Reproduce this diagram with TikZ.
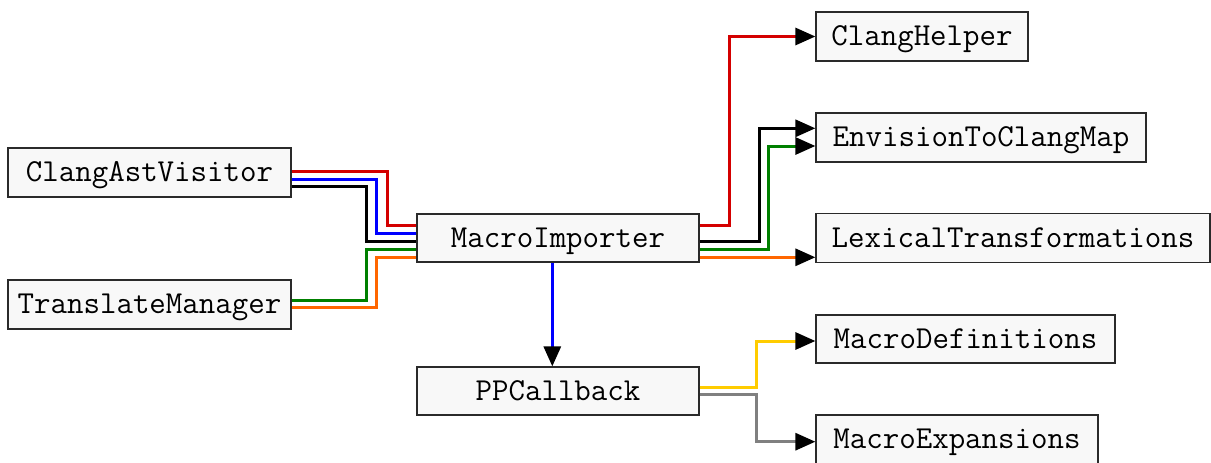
\documentclass[tikz,border=0pt]{standalone}
\usetikzlibrary{arrows.meta}
\definecolor{cred}{HTML}{D40000}
\definecolor{cblue}{HTML}{0000FF}
\definecolor{cgreen}{HTML}{008000}
\definecolor{corange}{HTML}{FF6600}
\definecolor{cyellow}{HTML}{FFCC00}
\definecolor{cgray}{HTML}{808080}
\definecolor{boxfill}{HTML}{F8F8F8}
\definecolor{boxline}{HTML}{2A2A2A}
\tikzset{
  cls/.style={draw=boxline, fill=boxfill, line width=1.2pt, inner sep=0pt,
    font=\ttfamily\fontsize{32}{34}\selectfont, text height=18.5pt, text depth=0pt},
  link/.style={line width=3pt},
  arr/.style={-{Triangle[length=20pt,width=17pt,color=black]}}
}
\begin{document}
\begin{tikzpicture}[x=1pt,y=-1pt]
\useasboundingbox (0,0) rectangle (1211,463);
% nodes
\node[cls, minimum width=283pt, minimum height=49pt] (cav) at (149.5,172.5) {ClangAstVisitor};
\node[cls, minimum width=283pt, minimum height=49pt] (tm) at (149.5,304.5) {TranslateManager};
\node[cls, minimum width=282pt, minimum height=48pt] (mi) at (558,238) {MacroImporter};
\node[cls, minimum width=282pt, minimum height=48pt] (pp) at (558,391) {PPCallback};
\node[cls, minimum width=212pt, minimum height=49pt] (ch) at (922,36.5) {ClangHelper};
\node[cls, minimum width=330pt, minimum height=49pt] (ecm) at (981,137.5) {EnvisionToClangMap};
\node[cls, minimum width=394pt, minimum height=49pt] (lt) at (1013,238) {LexicalTransformations};
\node[cls, minimum width=299pt, minimum height=48pt] (md) at (965.5,339) {MacroDefinitions};
\node[cls, minimum width=282pt, minimum height=49pt] (me) at (957,439.5) {MacroExpansions};
% helper levels
\coordinate (ya) at (0,171.7);
\coordinate (yb) at (0,179.3);
\coordinate (yc) at (0,186.7);
\coordinate (yd) at (0,300);
\coordinate (ye) at (0,307.3);
\coordinate (ma) at (0,225.7);
\coordinate (mb) at (0,233.5);
\coordinate (mc) at (0,241.7);
\coordinate (md1) at (0,249.2);
\coordinate (me1) at (0,257.3);
% left connectors
\draw[link, cred] (cav.east |- ya) -| (387,225.7) -- (mi.west |- ma);
\draw[link, cblue] (cav.east |- yb) -| (376.7,233.5) -- (mi.west |- mb);
\draw[link, black] (cav.east |- yc) -| (366.7,241.7) -- (mi.west |- mc);
\draw[link, cgreen] (tm.east |- yd) -| (366.7,249.2) -- (mi.west |- md1);
\draw[link, corange] (tm.east |- ye) -| (376.7,257.3) -- (mi.west |- me1);
% right connectors
\coordinate (ra) at (0,128.3);
\coordinate (rb) at (0,146);
\draw[link, cred, arr] (mi.east |- ma) -| (729,36.5) -- (ch.west);
\draw[link, black, arr] (mi.east |- mc) -| (759.3,128.3) -- (ecm.west |- ra);
\draw[link, cgreen, arr] (mi.east |- md1) -| (768.3,146) -- (ecm.west |- rb);
\draw[link, corange, arr] (mi.east |- me1) -- (lt.west |- me1);
% down
\coordinate (xb) at (552.3,0);
\draw[link, cblue, arr] (mi.south -| xb) -- (pp.north -| xb);
% PPCallback outputs
\coordinate (pa) at (0,387.7);
\coordinate (pb) at (0,394.2);
\coordinate (qa) at (0,341);
\coordinate (qb) at (0,441.7);
\draw[link, cyellow, arr] (pp.east |- pa) -| (756,341) -- (md.west |- qa);
\draw[link, cgray, arr] (pp.east |- pb) -| (756,441.7) -- (me.west |- qb);
\end{tikzpicture}
\end{document}
